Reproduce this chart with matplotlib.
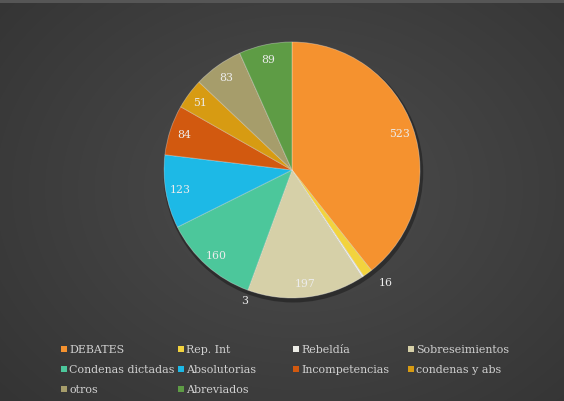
import numpy as np
import matplotlib
matplotlib.use("Agg")
import matplotlib.pyplot as plt
from matplotlib.patches import Rectangle

categories = ["DEBATES", "Rep. Int", "Rebeldía", "Sobreseimientos",
              "Condenas dictadas", "Absolutorias", "Incompetencias",
              "condenas y abs", "otros", "Abreviados"]
values = [523, 16, 3, 197, 160, 123, 84, 51, 83, 89]
colors = ["#F5922F", "#F2D33E", "#ECECE6", "#D6D0A8", "#4CC79B",
          "#1DB9E6", "#D2590F", "#D79B12", "#A69D6B", "#5E9C45"]

W, H = 564, 402
fig = plt.figure(figsize=(W / 100, H / 100), dpi=100)

# background radial gradient
bg = fig.add_axes([0, 0, 1, 1])
yy, xx = np.mgrid[0:H, 0:W]
r = np.sqrt(((xx - 300) / 420) ** 2 + ((yy - 190) / 330) ** 2)
g = np.clip(0.30 - 0.10 * r, 0.19, 0.31)
img = np.dstack([g, g, g])
img[0:4, :, :] = 0.34
bg.imshow(img, extent=[0, W, H, 0], aspect="auto")
bg.set_xlim(0, W)
bg.set_ylim(H, 0)
bg.axis("off")

# pie
cx, cy, R = 292, 171, 128
Ra = R * 1.05
ax = fig.add_axes([(cx - Ra) / W, (H - cy - Ra) / H, 2 * Ra / W, 2 * Ra / H])
# shadow
ax.pie([1], radius=1.015, colors=["#1e1e1e"], center=(0.01, -0.02),
       wedgeprops=dict(linewidth=0, alpha=0.6))
wedges, _ = ax.pie(values, colors=colors, startangle=90, counterclock=False,
                   wedgeprops=dict(edgecolor=(1, 1, 1, 0.35), linewidth=0.6))
ax.set_xlim(-1.05, 1.05)
ax.set_ylim(-1.05, 1.05)
ax.set_aspect("equal")
ax.axis("off")

label_font = dict(family="DejaVu Serif", fontsize=7.8, color="#ECECEC",
                  ha="center", va="center")
for i, (w, v) in enumerate(zip(wedges, values)):
    ang = np.deg2rad((w.theta1 + w.theta2) / 2)
    rad = 0.89
    if categories[i] == "Rep. Int":
        ang = np.deg2rad(w.theta2 + 1.5)
        rad = 1.14
    if categories[i] == "Rebeldía":
        ang = np.deg2rad(wedges[3].theta1)
        rad = 1.08
    ax.text(rad * np.cos(ang), rad * np.sin(ang), str(v), **label_font)

# legend
col_x = [64, 181, 296, 411]
row_y = [350, 370, 390]
for i, (c, col) in enumerate(zip(categories, colors)):
    x = col_x[i % 4]
    y = row_y[i // 4]
    fig.patches.append(Rectangle(((x - 3) / W, (H - y - 3) / H), 6 / W, 6 / H,
                                 transform=fig.transFigure, facecolor=col,
                                 edgecolor="none"))
    fig.text((x + 5) / W, (H - y) / H, c, family="DejaVu Serif", fontsize=7.9,
             color="#D0D0D0", ha="left", va="center")

fig.savefig("out.png", dpi=100)
